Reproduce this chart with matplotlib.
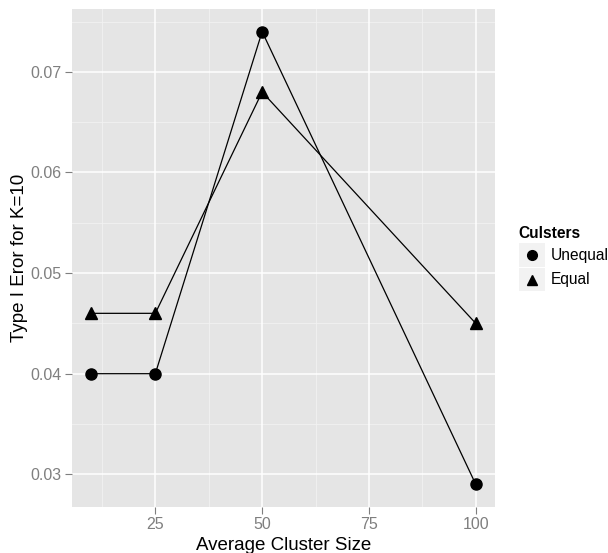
import matplotlib
matplotlib.use("Agg")
import matplotlib.pyplot as plt
from matplotlib.lines import Line2D
from matplotlib.patches import Rectangle

plt.rcParams['font.family'] = ['Liberation Sans', 'DejaVu Sans']

cluster_size = [10, 25, 50, 100]
unequal = [0.040, 0.040, 0.074, 0.029]
equal = [0.046, 0.046, 0.068, 0.045]
series_labels = ['Unequal', 'Equal']
series_markers = ['o', '^']
x_ticks = [25, 50, 75, 100]
y_ticks = [0.03, 0.04, 0.05, 0.06, 0.07]

W, H = 608, 553
fig = plt.figure(figsize=(W / 100, H / 100), dpi=100)


def fx(px):
    return px / W


def fy(py):
    return 1 - py / H


ax = fig.add_axes([fx(72), fy(507), (495 - 72) / W, (507 - 9) / H])
ax.set_facecolor('#E5E5E5')
for s in ax.spines.values():
    s.set_visible(False)

xmin, xmax = min(cluster_size), max(cluster_size)
xr = xmax - xmin
ax.set_xlim(xmin - 0.05 * xr, xmax + 0.05 * xr)
allv = unequal + equal
ymin, ymax = min(allv), max(allv)
yr = ymax - ymin
ax.set_ylim(ymin - 0.05 * yr, ymax + 0.05 * yr)

# grid
for xm in [12.5, 37.5, 62.5, 87.5]:
    ax.axvline(xm, color='#F2F2F2', lw=0.6, zorder=0)
for ym in [0.035, 0.045, 0.055, 0.065, 0.075]:
    ax.axhline(ym, color='#F2F2F2', lw=0.6, zorder=0)
for xt in x_ticks:
    ax.axvline(xt, color='white', lw=1.1, zorder=0)
for yt in y_ticks:
    ax.axhline(yt, color='white', lw=1.1, zorder=0)

for vals, mk in zip([unequal, equal], series_markers):
    ax.plot(cluster_size, vals, color='black', lw=0.9, marker=mk,
            ms=8 if mk == 'o' else 8.5, zorder=3)

ax.set_xticks(x_ticks)
ax.set_xticklabels([str(v) for v in x_ticks])
ax.set_yticks(y_ticks)
ax.set_yticklabels(['%.2f' % v for v in y_ticks])
ax.tick_params(axis='both', colors='#7F7F7F', labelcolor='#7F7F7F', labelsize=11.5,
               length=5, width=0.8, direction='out', pad=2.5)

ax.set_xlabel('Average Cluster Size', fontsize=13.5, color='black', labelpad=3)
ax.set_ylabel('Type I Eror for K=10', fontsize=13.5, color='black', labelpad=1.5)

# legend (ggplot style)
fig.text(fx(518), fy(233), 'Culsters', fontsize=11.2, fontweight='bold',
         ha='left', va='center')
key_top = 243
key_h = 24.5
for i, (lab, mk) in enumerate(zip(series_labels, series_markers)):
    y0 = key_top + i * key_h
    fig.add_artist(Rectangle((fx(519), fy(y0 + key_h - 1)), 26 / W, (key_h - 1) / H,
                             transform=fig.transFigure, facecolor='#F2F2F2',
                             edgecolor='none'))
    cy = y0 + key_h / 2
    fig.add_artist(Line2D([fx(532)], [fy(cy)], transform=fig.transFigure,
                          marker=mk, color='black', ms=7 if mk == 'o' else 7.5, lw=0))
    fig.text(fx(551), fy(cy), lab, fontsize=11.2, ha='left', va='center')

fig.savefig('out.png', dpi=100)
